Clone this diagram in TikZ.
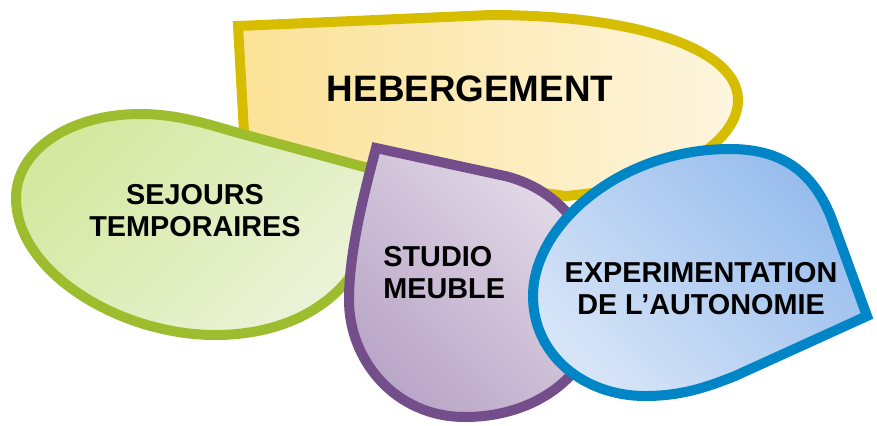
\documentclass[tikz,border=0pt]{standalone}
\usepackage{fontspec}
\setmainfont{Liberation Sans}

\definecolor{hebLine}{RGB}{215,189,0}
\definecolor{hebDark}{RGB}{252,226,150}
\definecolor{hebLight}{RGB}{253,245,222}
\definecolor{sejLine}{RGB}{158,189,46}
\definecolor{sejDark}{RGB}{212,232,160}
\definecolor{sejLight}{RGB}{236,244,218}
\definecolor{stuLine}{RGB}{116,78,138}
\definecolor{stuDark}{RGB}{186,166,199}
\definecolor{stuLight}{RGB}{228,220,233}
\definecolor{expLine}{RGB}{0,133,199}
\definecolor{expDark}{RGB}{150,188,237}
\definecolor{expLight}{RGB}{214,228,247}

\tikzset{
  petal/.style={line width=5pt, miter limit=20},
  petaltext/.style={inner sep=0pt, align=center,
    font=\fontsize{14.4}{16}\selectfont\bfseries},
}

\begin{document}
\begin{tikzpicture}[x=0.5pt, y=-0.5pt]
      \useasboundingbox (0,0) rectangle (877,425);
      % hebergement, sharp corner top left
      \draw[petal, draw=hebLine, left color=hebDark, right color=hebLight]
        (238,26) -- (490,15) .. controls (640,15) and (738,50) .. (738,100)
        .. controls (738,150) and (650,190) .. (565,196) -- (245,150) -- cycle;
      % sejours, tip to the right
      \draw[petal, draw=sejLine, top color=sejDark, bottom color=sejLight, shading angle=45]
        (390,174) -- (235,132) .. controls (195,120) and (170,114) .. (140,114)
        .. controls (70,114) and (16,150) .. (16,198)
        .. controls (16,272) and (120,335) .. (215,335)
        .. controls (282,335) and (330,308) .. (355,270) -- cycle;
      % studio, tip top left
      \draw[petal, draw=stuLine, top color=stuLight, bottom color=stuDark, shading angle=-45]
        (376,148) -- (505,176) .. controls (570,192) and (600,250) .. (600,300)
        .. controls (600,370) and (540,417) .. (465,417)
        .. controls (395,417) and (349,360) .. (349,300)
        .. controls (349,250) and (365,190) .. cycle;
      % experimentation, tip to the right
      \draw[petal, draw=expLine, top color=expDark, bottom color=expLight, shading angle=-45]
        (867,316) -- (831,217) .. controls (812,170) and (780,149) .. (730,149)
        .. controls (620,149) and (533,225) .. (533,296)
        .. controls (533,356) and (585,396) .. (645,396)
        .. controls (680,396) and (705,388) .. (735,376) -- cycle;

      \node[petaltext, font=\fontsize{18.4}{20}\selectfont\bfseries] (heb) at (470,89) {HEBERGEMENT};
      \node[petaltext] (sej) at (195,211) {SEJOURS\\TEMPORAIRES};
      \node[petaltext, align=left, anchor=west] (stu) at (383,273) {STUDIO\\MEUBLE};
      \node[petaltext] (exp) at (701,289) {EXPERIMENTATION\\DE L’AUTONOMIE};
    \end{tikzpicture}
\end{document}
